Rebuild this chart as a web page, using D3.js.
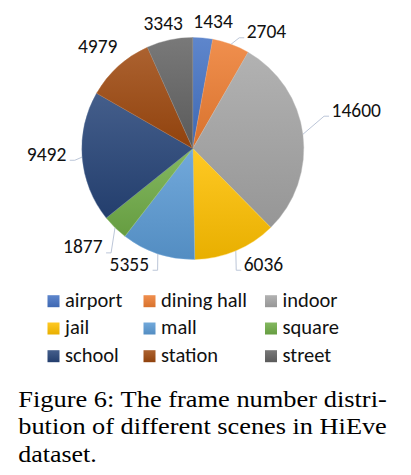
<!DOCTYPE html>
<html><head><meta charset="utf-8">
<script src="https://cdn.jsdelivr.net/npm/d3@7/dist/d3.min.js"></script>
<style>html,body{margin:0;padding:0;background:#fff;}svg{display:block;}</style>
</head><body>
<svg id="chart" width="411" height="475"></svg>
<script>
const categories = ["airport","dining hall","indoor","jail","mall","square","school","station","street"];
const values = [1434, 2704, 14600, 6036, 5355, 1877, 9492, 4979, 3343];
const colors = ["#4472C4","#ED7D31","#A5A5A5","#FFC000","#5B9BD5","#70AD47","#264478","#9E480E","#636363"];
const captionLines = ["Figure 6: The frame number distri-","bution of different scenes in HiEve","dataset."];

// layout (label offsets from slice edge point: [dx center, dy baseline])
const labelOffsets = [[10.3,-9.7],[35.5,-6],[53.4,-17.6],[27.7,19.9],[-28.5,16.9],[-32.2,25.7],[-35.6,3.7],[-20.6,-12.9],[-6.4,-10]];
const hasLeader = [false,true,true,true,true,true,true,false,false];
const captionWidths = [368.5, 368.5, 78.5];

const svg = d3.select("#chart");
const cx = 192.8, cy = 148.5, R = 111;
const labelFont = "'Carlito','Liberation Sans',Arial,sans-serif";

const defs = svg.append("defs");
colors.forEach((c,i)=>{
  const g = defs.append("linearGradient").attr("id","g"+i).attr("x1",0).attr("y1",0).attr("x2",0).attr("y2",1);
  g.append("stop").attr("offset","0%").attr("stop-color", d3.interpolateRgb(c,"#fff")(0.14));
  g.append("stop").attr("offset","100%").attr("stop-color", d3.interpolateRgb(c,"#000")(0.09));
});

const pie = d3.pie().sort(null).value(d=>d)(values);
const arc = d3.arc().innerRadius(0).outerRadius(R);
const edge = d3.arc().innerRadius(R).outerRadius(R);

const g = svg.append("g").attr("transform",`translate(${cx},${cy})`);
g.selectAll("path.slice").data(pie).enter().append("path")
  .attr("class","slice").attr("d",arc)
  .attr("fill",(d,i)=>`url(#g${i})`)
  .attr("stroke",(d,i)=>d3.interpolateRgb(colors[i],"#fff")(0.25)).attr("stroke-width",0.4);

// labels
pie.forEach((d,i)=>{
  const [ex,ey] = edge.centroid(d);
  const lx = ex + labelOffsets[i][0], ly = ey + labelOffsets[i][1];
  const t = g.append("text").attr("x",lx).attr("y",ly).attr("text-anchor","middle")
    .attr("font-family",labelFont).attr("font-size",19.5).attr("fill","#111").text(values[i]);
  if(hasLeader[i]){
    const w = t.node().getComputedTextLength();
    const right = lx > ex;
    const endX = right ? lx - w/2 - 2.5 : lx + w/2 + 3.5;
    const bendX = right ? endX - 5 : endX + 5;
    const yEnd = ly - 0.5;
    g.insert("polyline","text").attr("points",`${ex},${ey} ${bendX},${yEnd} ${endX},${yEnd}`)
      .attr("fill","none").attr("stroke","#bcc6d8").attr("stroke-width",1);
  }
});

// legend
const colX = [47.5, 143.5, 265];
const rowY = [306.7, 334, 361.7];
const leg = svg.append("g");
categories.forEach((c,i)=>{
  const col = i%3, row = Math.floor(i/3);
  leg.append("rect").attr("x",colX[col]).attr("y",rowY[row]-11.5).attr("width",12).attr("height",12)
    .attr("fill",`url(#g${i})`);
  leg.append("text").attr("x",colX[col]+17.5).attr("y",rowY[row])
    .attr("font-family",labelFont).attr("font-size",20.5).attr("fill","#111").text(c);
});

// caption
const capY = [406.7, 434.2, 461.7];
captionLines.forEach((s,i)=>{
  svg.append("text").attr("x",18.3).attr("y",capY[i])
    .attr("font-family","'Liberation Serif','Times New Roman',serif").attr("font-size",24).attr("fill","#000")
    .attr("textLength",captionWidths[i]).attr("lengthAdjust","spacingAndGlyphs").text(s);
});
</script>
</body></html>
